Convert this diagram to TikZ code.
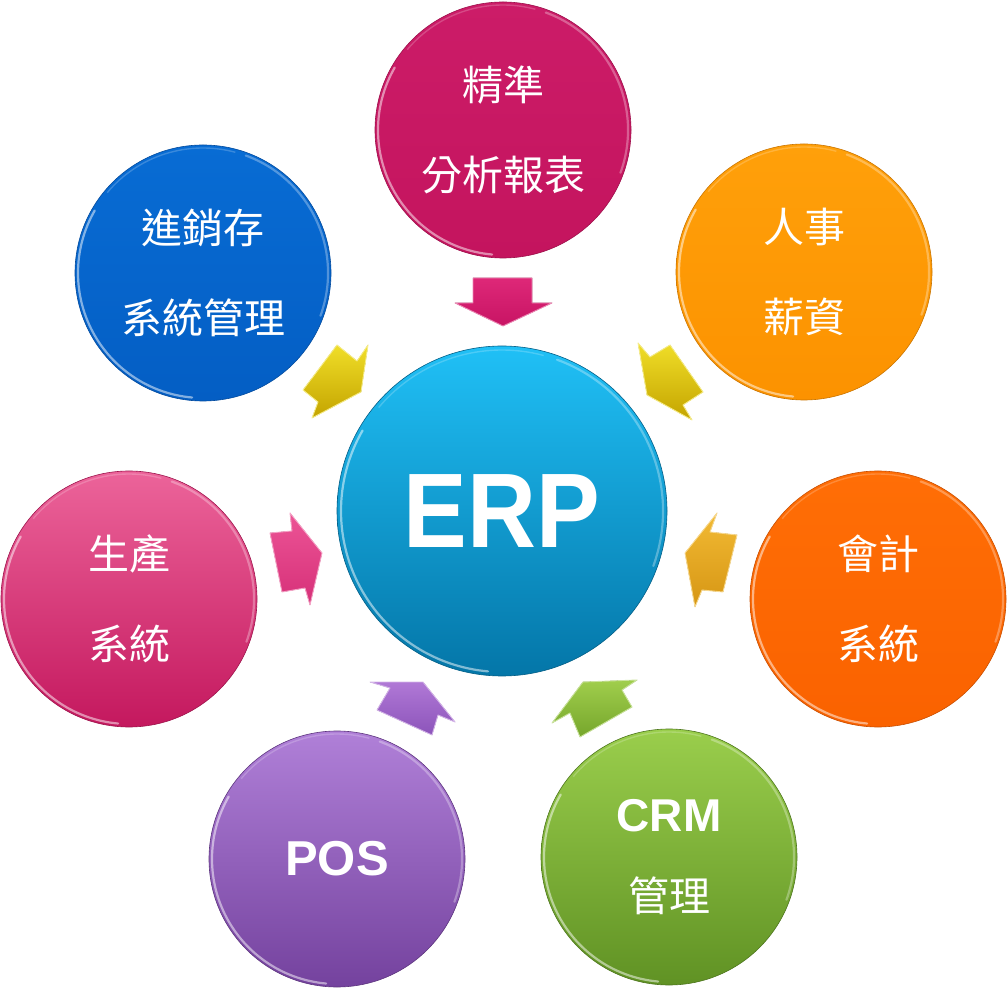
\documentclass[tikz,border=0pt]{standalone}
\usepackage{fontspec}
\usepackage{graphicx}
\newfontfamily\cjk{Noto Sans CJK TC}
\newfontfamily\lsb{Liberation Sans}
\definecolor{magT}{RGB}{204,28,104}
\definecolor{magB}{RGB}{196,20,94}
\definecolor{bluT}{RGB}{8,108,212}
\definecolor{bluB}{RGB}{4,94,196}
\definecolor{orgT}{RGB}{255,160,10}
\definecolor{orgB}{RGB}{252,146,0}
\definecolor{pnkT}{RGB}{236,100,154}
\definecolor{pnkB}{RGB}{196,24,94}
\definecolor{redT}{RGB}{255,110,6}
\definecolor{redB}{RGB}{250,98,0}
\definecolor{purT}{RGB}{176,128,216}
\definecolor{purB}{RGB}{116,66,158}
\definecolor{grnT}{RGB}{154,206,76}
\definecolor{grnB}{RGB}{96,146,36}
\definecolor{erpT}{RGB}{32,192,246}
\definecolor{erpB}{RGB}{4,118,168}
\definecolor{ylwT}{RGB}{240,222,40}
\definecolor{ylwB}{RGB}{196,164,0}
\definecolor{amT}{RGB}{242,186,52}
\definecolor{amB}{RGB}{214,150,20}
\definecolor{apT}{RGB}{236,84,150}
\definecolor{apB}{RGB}{214,48,120}
\definecolor{amgT}{RGB}{222,40,120}
\definecolor{amgB}{RGB}{200,20,100}
\definecolor{apuT}{RGB}{176,120,214}
\definecolor{apuB}{RGB}{140,84,186}
\definecolor{agrT}{RGB}{160,206,76}
\definecolor{agrB}{RGB}{118,166,44}
\tikzset{
  ball/.style 2 args={circle, inner sep=0pt, minimum size=256pt, text=white,
    align=center, top color=#1, bottom color=#2, draw=#2!80!black, line width=0.6pt,
    font=\cjk\fontsize{41}{90}\selectfont},
  blockarrow/.style 2 args={top color=#1, bottom color=#2, draw=#1!55!white,
    line width=0.9pt, line join=round},
  rim/.style={white, line width=2.2pt, line cap=round}
}
\newcommand\rimhl[2]{%
  \draw[rim, opacity=.5] ([shift={(150:#2)}]#1.center) arc[start angle=150, end angle=265, radius=#2];
  \draw[rim, opacity=.3] ([shift={(-20:#2)}]#1.center) arc[start angle=-20, end angle=70, radius=#2];
  \draw[white, opacity=.2, line width=1.4pt] ([shift={(75:#2)}]#1.center) arc[start angle=75, end angle=140, radius=#2];
}
\begin{document}
\begin{tikzpicture}[x=1pt,y=1pt]
\useasboundingbox (0,0) rectangle (1008,988);
% satellite circles
\node[ball={magT}{magB}] (top) at (503,858) {精準\\分析報表};
\node[ball={bluT}{bluB}] (lt) at (203,715) {進銷存\\系統管理};
\node[ball={orgT}{orgB}] (rt) at (804,716) {人事\\薪資};
\node[ball={pnkT}{pnkB}] (lf) at (129,389) {生產\\系統};
\node[ball={redT}{redB}] (rg) at (878,389) {會計\\系統};
\node[ball={purT}{purB}, font=\lsb\bfseries\fontsize{49}{49}\selectfont] (pos) at (337,129) {POS};
\node[ball={grnT}{grnB}, font=\cjk\fontsize{41}{80}\selectfont] (crm) at (669,131)
  {{\lsb\bfseries\fontsize{46}{46}\selectfont CRM}\\管理};
% centre
\node[ball={erpT}{erpB}, minimum size=330pt, font=\lsb\bfseries\fontsize{106}{106}\selectfont]
  (erp) at (502,477) {\scalebox{0.9}[1]{ERP}};
% rim highlights
\rimhl{top}{125}
\rimhl{lt}{125}
\rimhl{rt}{125}
\rimhl{lf}{125}
\rimhl{rg}{125}
\rimhl{pos}{125}
\rimhl{crm}{125}
\rimhl{erp}{161}
% block arrows
\fill[blockarrow={amgT}{amgB}] (473,710) -- (532,710) -- (532,685) -- (552,685) -- (503,662) -- (455,685) -- (473,685) -- cycle;
\fill[blockarrow={ylwT}{ylwB}] (337,643) -- (357,627) -- (368,643) -- (361,596) -- (312,570) -- (318,586) -- (303,598) -- cycle;
\fill[blockarrow={ylwT}{ylwB}] (638,645) -- (650,631) -- (670,643) -- (703,596) -- (683,583) -- (692,568) -- (647,593) -- cycle;
\fill[blockarrow={apT}{apB}] (270,455) -- (292,457) -- (290,475) -- (322,435) -- (310,383) -- (305,400) -- (282,396) -- cycle;
\fill[blockarrow={amT}{amB}] (717,475) -- (710,456) -- (737,453) -- (723,396) -- (702,398) -- (695,381) -- (685,435) -- cycle;
\fill[blockarrow={apuT}{apuB}] (370,306) -- (423,306) -- (455,266) -- (438,273) -- (432,253) -- (377,278) -- (390,300) -- cycle;
\fill[blockarrow={agrT}{agrB}] (583,306) -- (637,308) -- (622,298) -- (632,281) -- (580,251) -- (570,275) -- (552,265) -- cycle;
\end{tikzpicture}
\end{document}
